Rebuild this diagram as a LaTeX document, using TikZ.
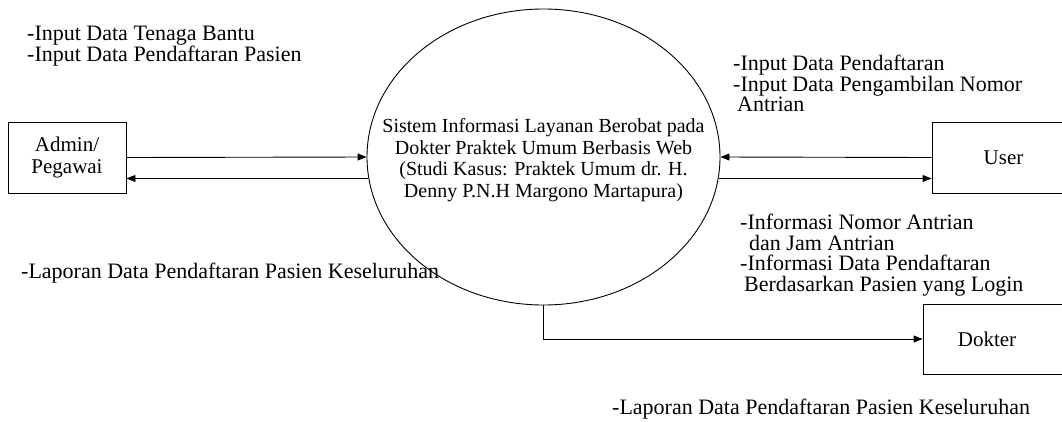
\documentclass[tikz,border=0pt]{standalone}
\usepackage{fontspec}
\setmainfont{Liberation Serif}
\usetikzlibrary{shapes.geometric,arrows.meta}
\tikzset{
  entity/.style={draw, line width=0.9pt, inner sep=0pt, minimum width=#1},
  lbl/.style={inner sep=0pt, align=left, anchor=west, font=\fontsize{22}{20.7}\selectfont},
  boxtext/.style={inner sep=0pt, align=center, font=\fontsize{21}{21.5}\selectfont},
  arr/.style={line width=0.9pt, -{Triangle[length=9pt,width=7pt]}},
  conn/.style={line width=0.9pt}
}
\begin{document}
\begin{tikzpicture}[x=1pt,y=-1pt]
\useasboundingbox (0,0) rectangle (1062,421);
\clip (0,0) rectangle (1062,421);
% process
\node[ellipse, draw, line width=0.9pt, inner sep=0pt, minimum width=353pt, minimum height=296pt] (sys) at (543.5,157) {};
\node[inner sep=0pt, align=center, font=\fontsize{20}{21.5}\selectfont] (systext) at (543.5,160)
  {Sistem Informasi Layanan Berobat pada\\Dokter Praktek Umum Berbasis Web\\(Studi Kasus: Praktek Umum dr. H.\\Denny P.N.H Margono Martapura)};
% entities
\node[entity=118pt, minimum height=71pt, boxtext] (admin) at (67,157.5) {Admin/\\Pegawai};
\node[entity=143pt, minimum height=71pt, boxtext] (user) at (1003.5,157.5) {User};
\node[entity=152pt, minimum height=70pt] (dokter) at (999,339) {};
\node[boxtext] (dokterlbl) at (987,339) {Dokter};
% connectors
\draw[arr] (admin.east) -- (sys.west);
\draw[arr] (sys.187) -- (sys.187 -| admin.east);
\draw[arr] (user.west) -- (sys.east);
\draw[arr] (sys.353) -- (sys.353 -| user.west);
\draw[arr] (sys.south) |- (dokter.west);
% labels
\node[lbl, font=\fontsize{22}{21.5}\selectfont] (l1) at (27,46) {-Input Data Tenaga Bantu\\-Input Data Pendaftaran Pasien};
\node[lbl] (l2) at (21,273) {-Laporan Data Pendaftaran Pasien Keseluruhan};
\node[lbl] (l3) at (733,83.5) {-Input Data Pendaftaran\\-Input Data Pengambilan Nomor\\\hspace*{4pt}Antrian};
\node[lbl] (l4) at (740,255) {-Informasi Nomor Antrian\\\hspace*{9pt}dan Jam Antrian\\-Informasi Data Pendaftaran\\\hspace*{4pt}Berdasarkan Pasien yang Login};
\node[lbl] (l5) at (612,409) {-Laporan Data Pendaftaran Pasien Keseluruhan};
\end{tikzpicture}
\end{document}
